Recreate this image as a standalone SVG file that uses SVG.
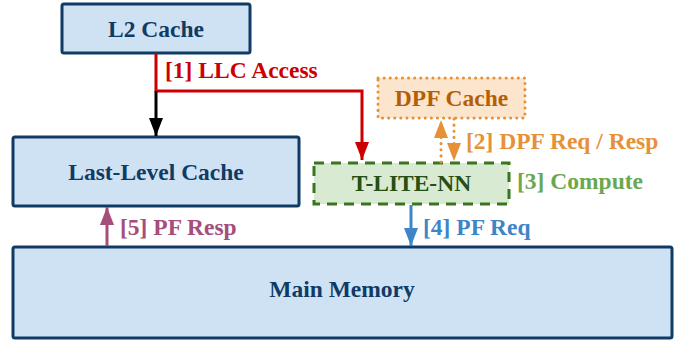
<svg xmlns="http://www.w3.org/2000/svg" width="681" height="343" viewBox="0 0 681 343">
<defs>
<style>
text{font-weight:bold;font-size:23.5px}
.box{fill:#cfe2f3;stroke:#0f3b64;stroke-width:3}
.bt{fill:#0f3b64;text-anchor:middle}
.ln{fill:none;stroke-width:3}
</style>
<marker id="hk" viewBox="0 0 18 14" refX="18" refY="7" markerWidth="18" markerHeight="14" markerUnits="userSpaceOnUse" orient="auto"><path d="M0,0 L18,7 L0,14 Z" fill="#000"/></marker>
<marker id="hr" viewBox="0 0 18 14" refX="18" refY="7" markerWidth="18" markerHeight="14" markerUnits="userSpaceOnUse" orient="auto"><path d="M0,0 L18,7 L0,14 Z" fill="#cc0000"/></marker>
<marker id="ho" viewBox="0 0 18 14" refX="18" refY="7" markerWidth="18" markerHeight="14" markerUnits="userSpaceOnUse" orient="auto"><path d="M0,0 L18,7 L0,14 Z" fill="#e69138"/></marker>
<marker id="hb" viewBox="0 0 18 14" refX="18" refY="7" markerWidth="18" markerHeight="14" markerUnits="userSpaceOnUse" orient="auto"><path d="M0,0 L18,7 L0,14 Z" fill="#3d85c6"/></marker>
<marker id="hp" viewBox="0 0 18 14" refX="18" refY="7" markerWidth="18" markerHeight="14" markerUnits="userSpaceOnUse" orient="auto"><path d="M0,0 L18,7 L0,14 Z" fill="#a64d79"/></marker>
</defs>
<g font-family="'Liberation Serif', 'DejaVu Serif', serif">
<g id="l2">
<rect class="box" x="62" y="4" width="188" height="49" rx="2"/>
<text class="bt" x="156" y="37">L2 Cache</text>
</g>
<g id="llc">
<rect class="box" x="13" y="137" width="286" height="69" rx="2"/>
<text class="bt" x="156" y="180">Last-Level Cache</text>
</g>
<g id="dpf">
<rect x="378" y="78" width="147" height="40" fill="#fce5cd" stroke="#e69138" stroke-width="3" stroke-dasharray="0.1 6" stroke-linecap="round"/>
<text x="451.5" y="106" fill="#b45f06" text-anchor="middle">DPF Cache</text>
</g>
<g id="tlite">
<rect x="314" y="163" width="195" height="41" fill="#d9ead3" stroke="#38761d" stroke-width="3" stroke-dasharray="10 7"/>
<text x="411.5" y="191" fill="#274e13" text-anchor="middle">T-LITE-NN</text>
</g>
<g id="mem">
<rect class="box" x="13" y="247" width="659" height="91" rx="2"/>
<text class="bt" x="342" y="297">Main Memory</text>
</g>
<g id="connectors">
<path class="ln" d="M156,53 V91 H362 V160" stroke="#cc0000" marker-end="url(#hr)"/>
<path class="ln" d="M156,91 V136" stroke="#000" marker-end="url(#hk)"/>
<path class="ln" d="M441,162 V120" stroke="#e69138" stroke-dasharray="0.1 6" stroke-linecap="round" marker-end="url(#ho)"/>
<path class="ln" d="M454,119 V161" stroke="#e69138" stroke-dasharray="0.1 6" stroke-linecap="round" marker-end="url(#ho)"/>
<path class="ln" d="M411,205 V246" stroke="#3d85c6" marker-end="url(#hb)"/>
<path class="ln" d="M107,246 V207" stroke="#a64d79" marker-end="url(#hp)"/>
<text x="165" y="78" fill="#cc0000">[1] LLC Access</text>
<text x="466" y="149" fill="#e69138">[2] DPF Req / Resp</text>
<text x="517" y="189" fill="#6aa84f">[3] Compute</text>
<text x="423" y="235" fill="#3d85c6">[4] PF Req</text>
<text x="120" y="235" fill="#a64d79">[5] PF Resp</text>
</g>
</g>
</svg>
